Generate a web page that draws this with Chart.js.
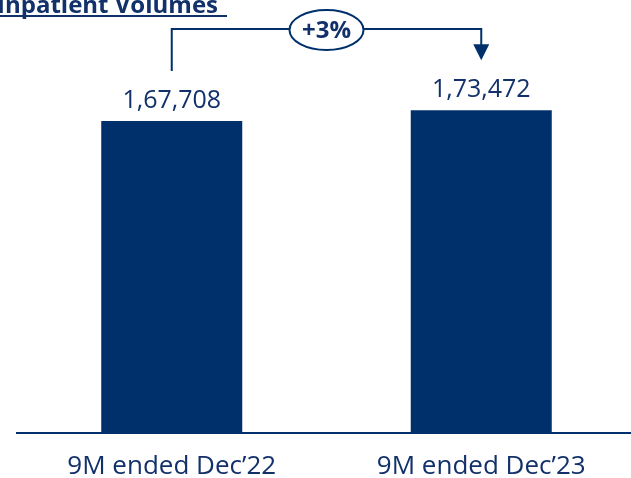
<!DOCTYPE html>
<html>
<head>
<meta charset="utf-8">
<script src="https://cdn.jsdelivr.net/npm/chart.js@4"></script>
<style>
  html, body { margin: 0; padding: 0; background: #fff; overflow: hidden; }
  .chart-container { position: relative; width: 640px; height: 478px; }
</style>
</head>
<body>
<div class="chart-container">
  <canvas id="volume-chart"></canvas>
</div>
<script>
// Data
const categories = ['9M ended Dec\u201922', '9M ended Dec\u201923'];
const volumes = [167708, 173472];
const chartTitle = 'Inpatient Volumes';

const navy = '#00306B';
const textNavy = '#12316A';
const font = 'Open Sans';

function formatIndian(n) {
    return n.toLocaleString('en-IN');
}

// Title, value labels and the growth bracket
const overlayPlugin = {
    id: 'overlay',
    afterDraw: (chart) => {
        const c = chart.ctx;
        const bars = chart.getDatasetMeta(0).data;
        const { top } = chart.chartArea;

        c.save();

        // Title, underlined
        c.font = `bold 24px "${font}"`;
        c.fillStyle = textNavy;
        c.textAlign = 'right';
        c.textBaseline = 'alphabetic';
        c.fillText(chartTitle, 218, 13);
        c.fillRect(0, 15, 227, 2);

        // Value labels
        c.font = `25px "${font}"`;
        c.textAlign = 'center';
        bars.forEach((bar, i) => {
            c.fillText(formatIndian(volumes[i]), bar.x, bar.y - 13);
        });

        // Bracket with arrow
        const lineY = top - 32;
        const x1 = bars[0].x;
        const x2 = bars[1].x;
        const midX = (x1 + x2) / 2;
        c.strokeStyle = navy;
        c.lineWidth = 2;
        c.beginPath();
        c.moveTo(x1, bars[0].y - 50);
        c.lineTo(x1, lineY);
        c.lineTo(x2, lineY);
        c.lineTo(x2, bars[1].y - 64);
        c.stroke();

        c.fillStyle = navy;
        c.beginPath();
        c.moveTo(x2 - 8, bars[1].y - 66);
        c.lineTo(x2 + 8, bars[1].y - 66);
        c.lineTo(x2, bars[1].y - 50);
        c.closePath();
        c.fill();

        // Ellipse with growth
        c.beginPath();
        c.ellipse(midX, lineY + 1, 37, 20, 0, 0, Math.PI * 2);
        c.fillStyle = '#ffffff';
        c.fill();
        c.stroke();

        const growth = Math.round((volumes[1] / volumes[0] - 1) * 100);
        c.fillStyle = textNavy;
        c.font = `bold 24px "${font}"`;
        c.textBaseline = 'middle';
        c.fillText(`+${growth}%`, midX, lineY + 2);

        c.restore();
    }
};

const ctx = document.getElementById('volume-chart').getContext('2d');

new Chart(ctx, {
    type: 'bar',
    data: {
        labels: categories,
        datasets: [{
            data: volumes,
            backgroundColor: navy,
            borderWidth: 0,
            categoryPercentage: 1,
            barPercentage: 0.4556
        }]
    },
    plugins: [overlayPlugin],
    options: {
        responsive: true,
        maintainAspectRatio: false,
        animation: false,
        layout: {
            padding: { top: 61, left: 17, right: 4, bottom: 0 }
        },
        plugins: {
            legend: { display: false },
            tooltip: { enabled: false }
        },
        scales: {
            x: {
                grid: { display: false, drawTicks: false },
                border: { display: true, color: navy, width: 2 },
                ticks: {
                    color: textNavy,
                    font: { family: font, size: 26 },
                    padding: 18,
                    maxRotation: 0
                },
                afterFit: (scale) => { scale.height = 45; }
            },
            y: {
                display: false,
                min: 0,
                max: 200000
            }
        }
    }
});
</script>
</body>
</html>
